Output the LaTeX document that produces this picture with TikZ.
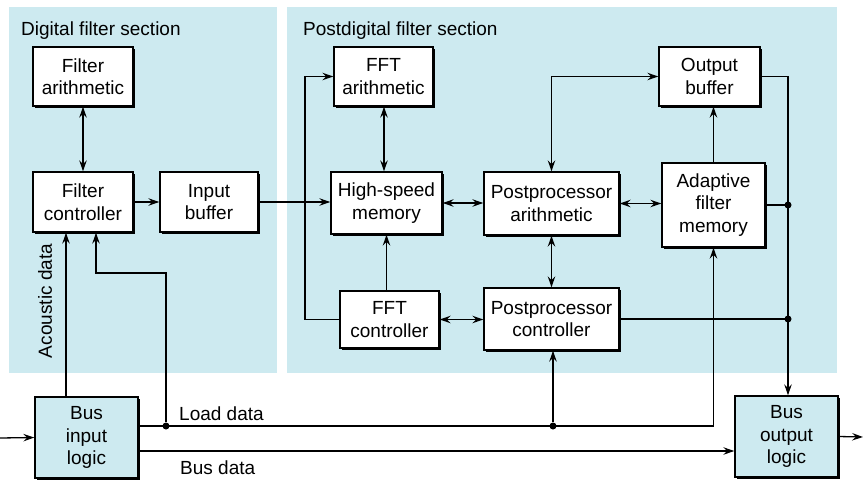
\documentclass[tikz,border=0pt]{standalone}
\usepackage{fontspec}
\setmainfont{Liberation Sans}
\usetikzlibrary{arrows.meta,shadows}
\definecolor{panel}{RGB}{205,234,240}
\begin{document}
\begin{tikzpicture}[x=1pt,y=-1pt,
  >={Stealth[length=11pt,width=7.5pt,inset=4pt]},
  blk/.style={draw=black,line width=1.4pt,fill=white,align=center,inner sep=0pt,
    font=\fontsize{19}{22.5}\selectfont,
    drop shadow={shadow xshift=2pt,shadow yshift=-2pt,fill=black,opacity=1}},
  busblk/.style={blk,fill=panel},
  wire/.style={line width=1.3pt},
  jdot/.style={circle,fill=black,inner sep=0pt,minimum size=7pt},
  lbl/.style={font=\fontsize{19}{22.5}\selectfont,inner sep=0pt}]

% canvas and section panels
\useasboundingbox (0,0) rectangle (863,480);
\fill[white] (0,0) rectangle (863,480);
\fill[panel] (9,7) rectangle (277,373);
\fill[panel] (287,7) rectangle (837,373);
\node[lbl,anchor=base west] (tdig) at (21,35) {Digital filter section};
\node[lbl,anchor=base west] (tpost) at (303,35) {Postdigital filter section};

% blocks
\node[blk,minimum width=100pt,minimum height=59pt] (farith) at (83,76.5) {Filter\\arithmetic};
\node[blk,minimum width=100pt,minimum height=60pt] (fctrl) at (83,202) {Filter\\controller};
\node[blk,minimum width=98pt,minimum height=60pt] (inbuf) at (209,202) {Input\\buffer};
\node[blk,minimum width=99pt,minimum height=59pt] (fftar) at (383.5,76.5) {FFT\\arithmetic};
\node[blk,minimum width=111pt,minimum height=62pt] (hsm) at (386.5,203) {High-speed\\memory};
\node[blk,minimum width=99pt,minimum height=57pt] (fftctl) at (389.5,319.5) {FFT\\controller};
\node[blk,minimum width=135pt,minimum height=63pt] (ppar) at (551.5,203.5) {Postprocessor\\arithmetic};
\node[blk,minimum width=135pt,minimum height=62pt] (ppctl) at (551.5,319) {Postprocessor\\controller};
\node[blk,minimum width=101pt,minimum height=59pt] (outbuf) at (709.5,76.5) {Output\\buffer};
\node[blk,minimum width=103pt,minimum height=84pt] (afm) at (713.5,205) {Adaptive\\filter\\memory};
\node[busblk,minimum width=103pt,minimum height=81pt] (busin) at (86.5,437.5) {Bus\\input\\logic};
\node[busblk,minimum width=103pt,minimum height=81pt] (busout) at (786.5,436.5) {Bus\\output\\logic};

% routing helpers
\coordinate (fb) at (305,0);
\coordinate (ob) at (788,0);
\coordinate (ac) at (66,0);
\coordinate (lk) at (96,273);
\coordinate (yload) at (0,426);
\coordinate (ybus) at (0,451);
\coordinate (src) at (0,438);
\coordinate (dst) at (863,437);

% digital filter section
\draw[wire,<->] (farith) -- (fctrl);
\draw[wire,->] (fctrl) -- (inbuf);
\draw[wire,->] (inbuf.east) -- (inbuf.east -| hsm.west);

% postdigital filter section
\draw[wire,->] (fftctl.west) -- (fftctl.west -| fb) |- (fftar.west);
\draw[wire,<->] (fftar.south -| 384,0) -- (hsm.north -| 384,0);
\draw[wire,->] (fftctl.north -| hsm.south) -- (hsm.south);
\draw[wire,<->] (hsm.east) -- (hsm.east -| ppar.west);
\draw[wire,<->] (fftctl.east) -- (fftctl.east -| ppctl.west);
\draw[wire,<->] (ppar.south) -- (ppctl.north);
\draw[wire,<->] (ppar.east) -- (ppar.east -| afm.west);
\draw[wire,<->] (ppar.north) |- (outbuf.west);
\draw[wire,->] (afm.north) -- (afm.north |- outbuf.south);
\draw[wire,->] (outbuf.east) -| (ob |- busout.north);
\draw[wire] (afm.east) -- (afm.east -| ob) node[jdot] (j1) {};
\draw[wire] (ppctl.east) -- (ppctl.east -| ob) node[jdot] (j2) {};

% bus interfaces
\draw[wire,->] (src) -- (busin.west);
\draw[wire,->] (busout.east) -- (dst);
\draw[wire,->] (busin.north -| ac) -- (fctrl.south -| ac);
\node[lbl,rotate=90] (acl) at (45,301) {Acoustic data};
\draw[wire,->] (busin.east |- yload) -| (afm.south);
\node[jdot] (j3) at (166,426) {};
\node[jdot] (j4) at (553,426) {};
\draw[wire,->] (j3) |- (lk) -- (lk |- fctrl.south);
\draw[wire,->] (j4) -- (j4 |- ppctl.south);
\draw[wire,->] (busin.east |- ybus) -- (busout.west |- ybus);
\node[lbl,anchor=base west] (tload) at (179,420) {Load data};
\node[lbl,anchor=base west] (tbus) at (180,474) {Bus data};
\end{tikzpicture}
\end{document}
